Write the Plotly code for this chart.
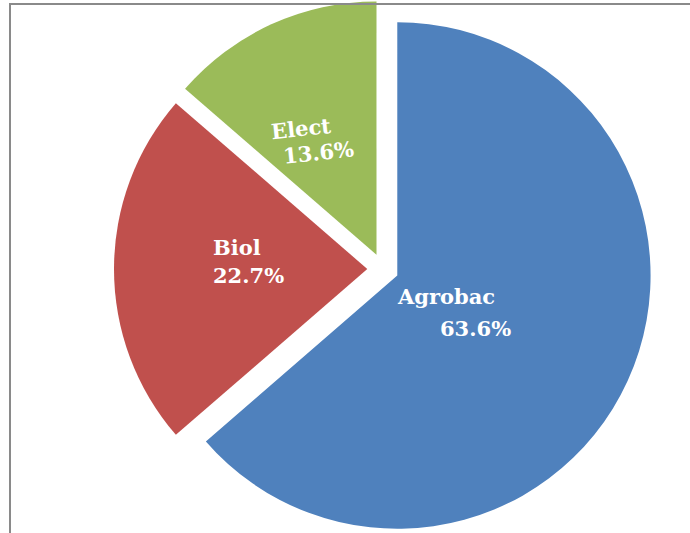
import plotly.graph_objects as go

# Data
labels = ["Agrobac", "Biol", "Elect"]
values = [14, 5, 3]
colors = ["#4F81BD", "#C0504D", "#9BBB59"]

W, H = 690, 538  # slightly taller than the window; the bottom edge is cropped like the original
total = sum(values)
pcts = [v / total * 100 for v in values]

fig = go.Figure()
fig.add_trace(go.Pie(
    labels=labels,
    values=values,
    sort=False,
    direction="clockwise",
    rotation=0,
    pull=[0.062, 0.062, 0.062],
    marker=dict(colors=colors, line=dict(width=0)),
    textinfo="none",
    hoverinfo="label+percent",
    showlegend=False,
    domain=dict(x=[(383 - 300) / W, (383 + 300) / W], y=[0, 1]),
))

# label positions (pixel, left edge / vertical centre) for each line
label_pos = {
    "Agrobac": [(395, 297), (438, 328)],
    "Biol": [(211, 247), (211, 275)],
    "Elect": [(268, 128), (280, 153)],
}
angles = {"Agrobac": 0, "Biol": 0, "Elect": -6}

font = dict(family="DejaVu Serif", size=21, color="white")
for lab, p in zip(labels, pcts):
    lines = [f"<b>{lab}</b>", f"<b>{p:.1f}%</b>"]
    for txt, (px, py) in zip(lines, label_pos[lab]):
        fig.add_annotation(
            x=px / W, y=1 - py / H, xref="paper", yref="paper",
            xanchor="left", yanchor="middle", text=txt, showarrow=False,
            font=font, textangle=angles[lab],
        )

# outer chart border (cropped at right and bottom)
fig.add_shape(type="rect", xref="paper", yref="paper",
              x0=10 / W, x1=1.2, y0=-0.2, y1=1 - 4 / H,
              line=dict(color="#8a8a8a", width=2), layer="above")

fig.update_layout(
    width=W, height=H,
    margin=dict(l=0, r=0, t=0, b=0),
    paper_bgcolor="white",
    plot_bgcolor="white",
)

fig.write_html(
    "out.html",
    config={"displayModeBar": False},
    post_script="document.body.style.margin='0';document.body.style.overflow='hidden';",
)
